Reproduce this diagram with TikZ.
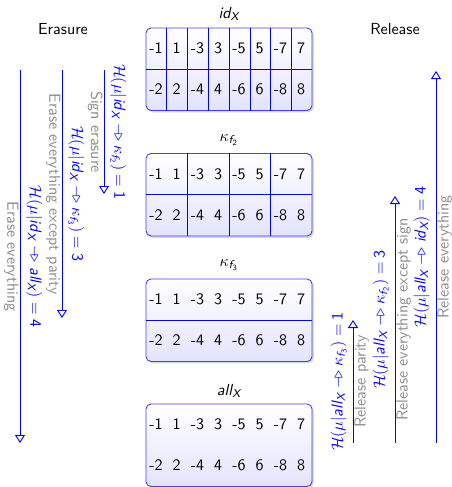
\documentclass[tikz,border=0pt]{standalone}
\usepackage{amsmath}
\usetikzlibrary{arrows.meta,shadows,calc}

% sans italic variable names inside math
\newcommand{\vi}[1]{\textsf{\itshape #1}}
\newcommand{\tarr}{\mathrel{\relbar\joinrel\mathrel{\triangleright}}}
\newcommand{\idX}{\vi{id}_{\vi{X}}}
\newcommand{\allX}{\vi{all}_{\vi{X}}}
\newcommand{\kf}[1]{\kappa_{\vi{f}_{\textsf{#1}}}}
\newcommand{\ent}[3]{$\mathcal{H}(\mu|#1\tarr#2)=\textsf{#3}$}

% the sixteen values of a board, two rows of eight cells
\newcommand{\boardnums}[1]{%
  \foreach \v [count=\i from 0] in {-1,1,-3,3,-5,5,-7,7}
    \node[cell] (#1a\i) at ($(#1.north west)+(20.75*\i+10.375,21)$) {\v};
  \foreach \v [count=\i from 0] in {-2,2,-4,4,-6,6,-8,8}
    \node[cell] (#1b\i) at ($(#1.north west)+(20.75*\i+10.375,62)$) {\v};}

\begin{document}
\begin{tikzpicture}[x=1pt,y=-1pt,
  txt/.style={font=\sffamily, scale=1.6, inner sep=1.5pt},
  heading/.style={txt},
  caption/.style={txt},
  cell/.style={txt, inner sep=0pt},
  blab/.style={txt, text=blue, inner sep=3.5pt},
  glab/.style={txt, text=black!45, inner sep=0.5pt},
  flow/.style={draw=blue, line width=0.9pt, -{Triangle[open, length=8pt, width=10pt]}},
  board/.style={draw=blue!75, line width=0.9pt, rounded corners=5pt,
    top color=white, bottom color=blue!11,
    minimum width=166pt, minimum height=82.5pt, inner sep=0pt,
    drop shadow={opacity=0.3, shadow xshift=1.8pt, shadow yshift=-1.8pt}},
  split/.style={draw=blue, line width=0.7pt}]
\useasboundingbox (0,0) rectangle (452,487);

% headings
\node[heading] (erase) at (63,29) {Erasure};
\node[heading] (release) at (395,29) {Release};

% boards
\node[board] (bid) at (229,69.25) {};
\node[board] (bk2) at (229,194.75) {};
\node[board] (bk3) at (229,320.25) {};
\node[board] (ball) at (229,445.25) {};

\node[caption] (cid) at (229,14) {$\idX$};
\node[caption] (ck2) at (229,140) {$\kf{2}$};
\node[caption] (ck3) at (229,265) {$\kf{3}$};
\node[caption] (call) at (229,391) {$\allX$};

% partitions of the boards
\draw[split] (bid.west) -- (bid.east);
\foreach \i in {1,...,7}
  \draw[split] ($(bid.north west)!\i/8!(bid.north east)$) -- ($(bid.south west)!\i/8!(bid.south east)$);
\draw[split] (bk2.west) -- (bk2.east);
\foreach \i in {2,4,6}
  \draw[split] ($(bk2.north west)!\i/8!(bk2.north east)$) -- ($(bk2.south west)!\i/8!(bk2.south east)$);
\draw[split] (bk3.west) -- (bk3.east);

\boardnums{bid}
\boardnums{bk2}
\boardnums{bk3}
\boardnums{ball}

% erasure arrows
\coordinate (es1) at (104,70);  \coordinate (ee1) at (104,194);
\coordinate (es2) at (62,70);   \coordinate (ee2) at (62,318);
\coordinate (es3) at (20,70);   \coordinate (ee3) at (20,443);
\draw[flow] (es1) -- (ee1)
  node[midway, rotate=-90, anchor=south, blab] {\ent{\idX}{\kf{2}}{1}}
  node[midway, rotate=-90, anchor=north, glab] {Sign erasure};
\draw[flow] (es2) -- (ee2)
  node[midway, rotate=-90, anchor=south, blab] {\ent{\idX}{\kf{3}}{3}}
  node[midway, rotate=-90, anchor=north, glab] {Erase everything except parity};
\draw[flow] (es3) -- (ee3)
  node[midway, rotate=-90, anchor=south, blab] {\ent{\idX}{\allX}{4}}
  node[midway, rotate=-90, anchor=north, glab] {Erase everything};

% release arrows
\coordinate (rs1) at (353,443); \coordinate (re1) at (353,320);
\coordinate (rs2) at (395,443); \coordinate (re2) at (395,196);
\coordinate (rs3) at (436,443); \coordinate (re3) at (436,71);
\draw[flow] (rs1) -- (re1)
  node[midway, rotate=90, anchor=south, blab] {\ent{\allX}{\kf{3}}{1}}
  node[midway, rotate=90, anchor=north, glab] {Release parity};
\draw[flow] (rs2) -- (re2)
  node[midway, rotate=90, anchor=south, blab] {\ent{\allX}{\kf{2}}{3}}
  node[midway, rotate=90, anchor=north, glab] {Release everything except sign};
\draw[flow] (rs3) -- (re3)
  node[midway, rotate=90, anchor=south, blab] {\ent{\allX}{\idX}{4}}
  node[midway, rotate=90, anchor=north, glab] {Release everything};
\end{tikzpicture}
\end{document}
